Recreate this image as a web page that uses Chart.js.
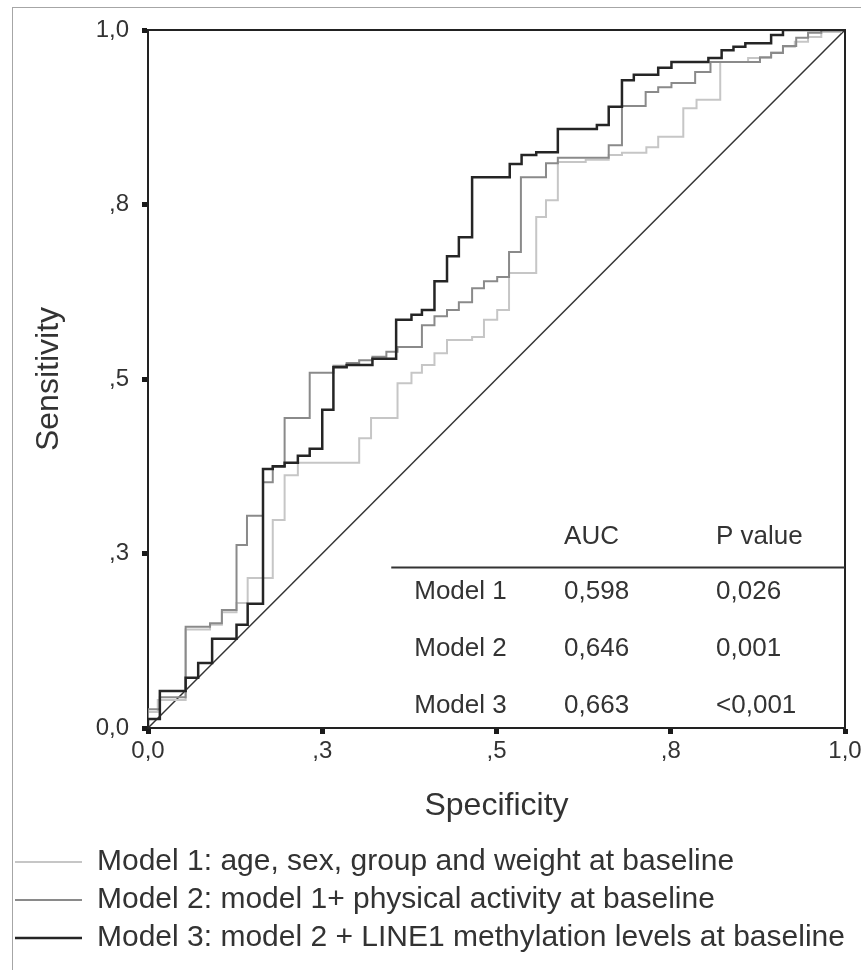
<!DOCTYPE html>
<html>
<head>
<meta charset="utf-8">
<script src="https://cdn.jsdelivr.net/npm/chart.js@4.4.1/dist/chart.umd.min.js"></script>
<style>
  html, body { margin: 0; padding: 0; background: #fff; }
  #chart { display: block; }
</style>
</head>
<body>
<canvas id="chart" width="861" height="970"></canvas>
<script>
// axis ticks (SPSS style labels)
const xTickValues = [0, 0.25, 0.5, 0.75, 1];
const xTickLabels = ["0,0", ",3", ",5", ",8", "1,0"];
const yTickValues = [0, 0.25, 0.5, 0.75, 1];
const yTickLabels = ["0,0", ",3", ",5", ",8", "1,0"];

const legendLabels = [
  "Model 1: age, sex, group and weight at baseline",
  "Model 2: model 1+ physical activity at baseline",
  "Model 3: model 2 + LINE1 methylation levels at baseline"
];

// ROC steps: each point is the end of a horizontal run (1 - specificity, sensitivity)
const model1X = [0, 0.014, 0.054, 0.089, 0.106, 0.127, 0.143, 0.179, 0.196, 0.215, 0.303, 0.320, 0.358, 0.378, 0.393, 0.411, 0.429, 0.465, 0.482, 0.501, 0.518, 0.557, 0.571, 0.588, 0.628, 0.661, 0.680, 0.715, 0.732, 0.768, 0.787, 0.821, 0.861, 0.894, 0.911, 0.928, 0.947, 0.966, 0.994, 1];
const model1Y = [0, 0.023, 0.040, 0.141, 0.148, 0.166, 0.179, 0.215, 0.298, 0.362, 0.380, 0.415, 0.444, 0.494, 0.509, 0.520, 0.537, 0.556, 0.560, 0.585, 0.599, 0.652, 0.732, 0.756, 0.811, 0.814, 0.821, 0.824, 0.832, 0.847, 0.888, 0.900, 0.954, 0.960, 0.968, 0.976, 0.983, 0.990, 0.997, 1];

const model2X = [0, 0.017, 0.054, 0.089, 0.106, 0.127, 0.142, 0.165, 0.179, 0.196, 0.232, 0.266, 0.285, 0.303, 0.322, 0.342, 0.358, 0.393, 0.411, 0.429, 0.446, 0.465, 0.482, 0.501, 0.518, 0.535, 0.571, 0.588, 0.661, 0.680, 0.714, 0.732, 0.751, 0.785, 0.807, 0.878, 0.894, 0.911, 0.930, 0.947, 0.966, 1];
const model2Y = [0, 0.027, 0.044, 0.145, 0.150, 0.169, 0.262, 0.304, 0.352, 0.374, 0.444, 0.509, 0.519, 0.523, 0.527, 0.532, 0.539, 0.546, 0.577, 0.590, 0.599, 0.610, 0.630, 0.640, 0.646, 0.682, 0.789, 0.809, 0.817, 0.835, 0.891, 0.911, 0.918, 0.924, 0.940, 0.954, 0.961, 0.967, 0.977, 0.989, 0.996, 1];

const model3X = [0, 0.017, 0.054, 0.072, 0.092, 0.127, 0.143, 0.165, 0.179, 0.196, 0.215, 0.232, 0.250, 0.266, 0.285, 0.322, 0.356, 0.378, 0.393, 0.411, 0.429, 0.446, 0.465, 0.519, 0.536, 0.557, 0.588, 0.644, 0.661, 0.680, 0.697, 0.732, 0.751, 0.804, 0.823, 0.840, 0.857, 0.894, 0.911, 1];
const model3Y = [0, 0.013, 0.053, 0.072, 0.093, 0.128, 0.148, 0.178, 0.371, 0.375, 0.380, 0.390, 0.400, 0.456, 0.517, 0.520, 0.529, 0.585, 0.592, 0.599, 0.640, 0.676, 0.703, 0.789, 0.808, 0.821, 0.825, 0.858, 0.864, 0.890, 0.928, 0.936, 0.946, 0.954, 0.960, 0.971, 0.976, 0.981, 0.993, 1];

const chanceX = [0, 1];
const chanceY = [0, 1];

// AUC table
const tableHeader = ["AUC", "P value"];
const tableModels = ["Model 1", "Model 2", "Model 3"];
const tableAuc = ["0,598", "0,646", "0,663"];
const tableP = ["0,026", "0,001", "<0,001"];

const FONT = "'Liberation Sans', Arial, sans-serif";

function toPoints(xs, ys) {
  return xs.map((x, i) => ({ x: x, y: ys[i] }));
}

const framePlugin = {
  id: "frame",
  beforeDraw(chart) {
    const ctx = chart.ctx;
    ctx.save();
    ctx.fillStyle = "#ffffff";
    ctx.fillRect(0, 0, chart.width, chart.height);
    ctx.strokeStyle = "#a6a6a6";
    ctx.lineWidth = 1;
    ctx.strokeRect(12.5, 7.5, chart.width + 20, chart.height + 20);
    ctx.restore();
  },
  afterDatasetsDraw(chart) {
    const { ctx, chartArea } = chart;
    ctx.save();
    ctx.strokeStyle = "#222";
    ctx.lineWidth = 2;
    ctx.beginPath();
    ctx.moveTo(chartArea.left, chartArea.top);
    ctx.lineTo(chartArea.right, chartArea.top);
    ctx.lineTo(chartArea.right, chartArea.bottom);
    ctx.stroke();
    ctx.restore();
  }
};

const tablePlugin = {
  id: "aucTable",
  afterDatasetsDraw(chart) {
    const ctx = chart.ctx;
    const xs = chart.scales.x;
    const ys = chart.scales.y;
    const colModel = xs.getPixelForValue(0.382);
    const colAuc = xs.getPixelForValue(0.597);
    const colP = xs.getPixelForValue(0.815);
    const rowY = [0.195, 0.113, 0.0315];

    ctx.save();
    ctx.font = "26px " + FONT;
    ctx.fillStyle = "#333";
    ctx.textBaseline = "middle";
    ctx.textAlign = "left";

    const headY = ys.getPixelForValue(0.274);
    ctx.fillText(tableHeader[0], colAuc, headY);
    ctx.fillText(tableHeader[1], colP, headY);

    const lineY = Math.round(ys.getPixelForValue(0.2307)) + 0.5;
    ctx.strokeStyle = "#333";
    ctx.lineWidth = 2;
    ctx.beginPath();
    ctx.moveTo(xs.getPixelForValue(0.349), lineY);
    ctx.lineTo(xs.getPixelForValue(1), lineY);
    ctx.stroke();

    tableModels.forEach((name, i) => {
      const y = ys.getPixelForValue(rowY[i]);
      ctx.fillText(name, colModel, y);
      ctx.fillText(tableAuc[i], colAuc, y);
      ctx.fillText(tableP[i], colP, y);
    });
    ctx.restore();
  }
};

const ctx = document.getElementById("chart").getContext("2d");
const rocChart = new Chart(ctx, {
  type: "line",
  data: {
    datasets: [
      {
        label: legendLabels[0],
        data: toPoints(model1X, model1Y),
        borderColor: "#c6c6c6",
        backgroundColor: "#c6c6c6",
        borderWidth: 2,
        stepped: "after",
        pointRadius: 0,
        order: 2
      },
      {
        label: legendLabels[1],
        data: toPoints(model2X, model2Y),
        borderColor: "#8a8a8a",
        backgroundColor: "#8a8a8a",
        borderWidth: 2,
        stepped: "after",
        pointRadius: 0,
        order: 1
      },
      {
        label: legendLabels[2],
        data: toPoints(model3X, model3Y),
        borderColor: "#252525",
        backgroundColor: "#252525",
        borderWidth: 2.5,
        stepped: "after",
        pointRadius: 0,
        order: 0
      },
      {
        label: "chance",
        data: toPoints(chanceX, chanceY),
        borderColor: "#333",
        borderWidth: 1.5,
        pointRadius: 0,
        order: 3
      }
    ]
  },
  options: {
    responsive: false,
    animation: false,
    events: [],
    layout: {
      autoPadding: false,
      padding: { left: 7, top: 30, right: 16, bottom: 7 }
    },
    scales: {
      x: {
        type: "linear",
        min: 0,
        max: 1,
        afterBuildTicks: (axis) => {
          axis.ticks = xTickValues.map((v) => ({ value: v }));
        },
        afterFit: (axis) => {
          axis.height = 111;
          // keep the plot box wide; the last label only just fits
          axis.paddingRight = 0;
          axis.paddingLeft = 0;
        },
        ticks: {
          callback: (value, index) => xTickLabels[index],
          font: { family: FONT, size: 24 },
          color: "#333",
          padding: 3,
          maxRotation: 0,
          autoSkip: false
        },
        grid: { drawOnChartArea: false, tickLength: 6, tickWidth: 5, tickColor: "#1a1a1a" },
        border: { display: true, width: 2, color: "#222" },
        title: {
          display: true,
          text: "Specificity",
          font: { family: FONT, size: 32 },
          color: "#333",
          padding: { top: 0, bottom: 14 }
        }
      },
      y: {
        type: "linear",
        min: 0,
        max: 1,
        afterBuildTicks: (axis) => {
          axis.ticks = yTickValues.map((v) => ({ value: v }));
        },
        afterFit: (axis) => {
          axis.width = 141;
        },
        ticks: {
          callback: (value, index) => yTickLabels[index],
          font: { family: FONT, size: 24 },
          color: "#333",
          padding: 13,
          autoSkip: false
        },
        grid: { drawOnChartArea: false, tickLength: 6, tickWidth: 5, tickColor: "#1a1a1a" },
        border: { display: true, width: 2, color: "#222" },
        title: {
          display: true,
          text: "Sensitivity",
          font: { family: FONT, size: 32 },
          color: "#333",
          padding: { top: 23, bottom: 0 }
        }
      }
    },
    plugins: {
      legend: {
        position: "bottom",
        align: "start",
        labels: {
          usePointStyle: true,
          pointStyle: "line",
          pointStyleWidth: 67,
          font: { family: FONT, size: 30 },
          color: "#333",
          padding: 8,
          filter: (item) => item.datasetIndex < 3,
          sort: (a, b) => a.datasetIndex - b.datasetIndex
        }
      },
      tooltip: { enabled: false }
    }
  },
  plugins: [framePlugin, tablePlugin]
});
</script>
</body>
</html>
